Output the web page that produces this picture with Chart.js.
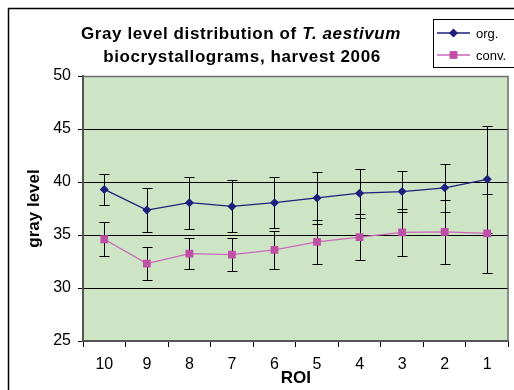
<!DOCTYPE html>
<html><head><meta charset="utf-8">
<script src="https://cdn.jsdelivr.net/npm/chart.js@4/dist/chart.umd.min.js"></script>
<style>html,body{margin:0;padding:0;background:#fff}#wrap{width:514px;height:390px;position:relative;overflow:hidden}</style>
</head><body><div id="wrap"><canvas id="c" width="514" height="390"></canvas></div>
<script>
const categories = ['10','9','8','7','6','5','4','3','2','1'];
const orgValues  = [39.3, 37.35, 38.05, 37.7, 38.05, 38.5, 38.95, 39.1, 39.45, 40.25];
const orgErrors  = [1.5, 2.05, 2.45, 2.45, 2.4, 2.45, 2.3, 1.95, 2.25, 5.05];
const convValues = [34.6, 32.3, 33.25, 33.15, 33.6, 34.35, 34.8, 35.25, 35.3, 35.15];
const convErrors = [1.6, 1.55, 1.45, 1.55, 1.8, 2.05, 2.2, 2.25, 3.0, 3.7];
const yTicks = [25, 30, 35, 40, 45, 50];
const titleLine1a = 'Gray level distribution of ';
const titleLine1b = 'T. aestivum';
const titleLine2 = 'biocrystallograms, harvest 2006';

const FONT = 'Arial, "Liberation Sans", sans-serif';
const ORG_COLOR = '#1F1F7E';
const CONV_LINE = '#CC66BB';
const CONV_MARK = '#C04FA8';

const bgPlugin = {
  id: 'bg',
  beforeDraw(chart) {
    const {ctx, chartArea: a} = chart;
    ctx.save();
    ctx.fillStyle = '#fff';
    ctx.fillRect(0, 0, chart.width, chart.height);
    ctx.fillStyle = '#CDE5C4';
    ctx.fillRect(a.left, a.top, a.right - a.left, a.bottom - a.top);
    ctx.restore();
  },
  beforeDatasetsDraw(chart) {
    const {ctx, chartArea: a} = chart;
    const ys = chart.scales.y;
    ctx.save();
    ctx.strokeStyle = '#707070';
    ctx.lineWidth = 1.5;
    ctx.beginPath();
    ctx.moveTo(a.left, a.top + 0.5);
    ctx.lineTo(a.right - 0.5, a.top + 0.5);
    ctx.lineTo(a.right - 0.5, a.bottom);
    ctx.stroke();
    ctx.strokeStyle = '#000';
    ctx.lineWidth = 1;
    chart.data.datasets.forEach((ds, i) => {
      const meta = chart.getDatasetMeta(i);
      ds.data.forEach((v, j) => {
        const e = ds.errors[j];
        const x = Math.round(meta.data[j].x) + 0.5;
        const y1 = Math.round(ys.getPixelForValue(v + e)) + 0.5;
        const y2 = Math.round(ys.getPixelForValue(v - e)) + 0.5;
        ctx.beginPath();
        ctx.moveTo(x, y1); ctx.lineTo(x, y2);
        ctx.moveTo(x - 5, y1); ctx.lineTo(x + 5, y1);
        ctx.moveTo(x - 5, y2); ctx.lineTo(x + 5, y2);
        ctx.stroke();
      });
    });
    ctx.restore();
  },
  afterDraw(chart) {
    const {ctx} = chart;
    ctx.save();
    ctx.strokeStyle = '#000';
    ctx.lineWidth = 1.5;
    ctx.strokeRect(8.5, 8.5, 600, 600);
    ctx.fillStyle = '#000';
    ctx.textBaseline = 'alphabetic';
    ctx.textAlign = 'left';
    ctx.letterSpacing = '0.6px';
    const f1 = 'bold 17px ' + FONT;
    const f2 = 'italic bold 17px ' + FONT;
    ctx.font = f1; const w1 = ctx.measureText(titleLine1a).width;
    ctx.font = f2; const w2 = ctx.measureText(titleLine1b).width;
    let x0 = 241 - (w1 + w2) / 2;
    ctx.font = f1; ctx.fillText(titleLine1a, x0, 38.5);
    ctx.font = f2; ctx.fillText(titleLine1b, x0 + w1, 38.5);
    ctx.font = f1; ctx.textAlign = 'center';
    ctx.fillText(titleLine2, 242, 62);
    ctx.letterSpacing = '0px';
    // legend
    ctx.fillStyle = '#fff';
    ctx.fillRect(433.5, 19.5, 100, 48);
    ctx.strokeStyle = '#000';
    ctx.lineWidth = 1;
    ctx.strokeRect(433.5, 19.5, 100, 48);
    const ly = [33, 55];
    chart.data.datasets.forEach((ds, i) => {
      const y = ly[i];
      ctx.strokeStyle = ds.borderColor;
      ctx.lineWidth = 1.3;
      ctx.beginPath(); ctx.moveTo(437, y); ctx.lineTo(470, y); ctx.stroke();
      ctx.fillStyle = ds.pointBackgroundColor;
      ctx.beginPath();
      if (ds.pointStyle === 'rectRot') {
        const r = ds.pointRadius;
        ctx.moveTo(453.5, y - r); ctx.lineTo(453.5 + r, y); ctx.lineTo(453.5, y + r); ctx.lineTo(453.5 - r, y); ctx.closePath();
      } else {
        const s = ds.pointRadius * Math.SQRT1_2;
        ctx.rect(453.5 - s, y - s, 2 * s, 2 * s);
      }
      ctx.fill();
      ctx.fillStyle = '#000';
      ctx.font = '13px ' + FONT;
      ctx.textAlign = 'left';
      ctx.textBaseline = 'middle';
      ctx.fillText(ds.label, 476, y + 1);
    });
    ctx.restore();
  }
};

new Chart(document.getElementById('c'), {
  type: 'line',
  data: {
    labels: categories,
    datasets: [
      {label: 'org.', data: orgValues, errors: orgErrors, borderColor: ORG_COLOR, backgroundColor: ORG_COLOR,
       pointBackgroundColor: ORG_COLOR, pointBorderColor: ORG_COLOR, pointBorderWidth: 0,
       pointStyle: 'rectRot', pointRadius: 4.5, borderWidth: 1.3, tension: 0},
      {label: 'conv.', data: convValues, errors: convErrors, borderColor: CONV_LINE, backgroundColor: CONV_MARK,
       pointBackgroundColor: CONV_MARK, pointBorderColor: CONV_MARK, pointBorderWidth: 0,
       pointStyle: 'rect', pointRadius: 5.5, borderWidth: 1.3, tension: 0}
    ]
  },
  options: {
    responsive: false, animation: false, devicePixelRatio: 1,
    layout: {padding: {left: 0, right: 2, top: 76, bottom: 0}},
    plugins: {legend: {display: false}, title: {display: false}, tooltip: {enabled: false}},
    scales: {
      x: {
        type: 'category', offset: true,
        grid: {offset: true, drawOnChartArea: false, drawTicks: true, tickLength: 6, color: '#000', tickColor: '#000'},
        border: {color: '#555', width: 2},
        ticks: {color: '#000', font: {family: FONT, size: 16}, padding: 8, maxRotation: 0, autoSkip: false},
        title: {display: true, text: 'ROI', color: '#000', font: {family: FONT, size: 17, weight: 'bold'}, padding: {top: 0, bottom: 1}},
        afterFit(s) { s.height = 49; }
      },
      y: {
        min: 25, max: 50,
        afterBuildTicks(s) { s.ticks = yTicks.map(v => ({value: v})); },
        grid: {color: c => (c.tick && (c.tick.value === 50 || c.tick.value === 25)) ? 'rgba(0,0,0,0)' : '#000',
               tickColor: '#000', tickLength: 5, lineWidth: 1},
        border: {color: '#555', width: 2},
        ticks: {color: '#000', font: {family: FONT, size: 16}, padding: 7},
        title: {display: true, text: 'gray level', color: '#000', font: {family: FONT, size: 17, weight: 'bold'}, padding: {top: 24, bottom: 0}},
        afterFit(s) { s.width = 83; }
      }
    }
  },
  plugins: [bgPlugin]
});
</script>
</body></html>
